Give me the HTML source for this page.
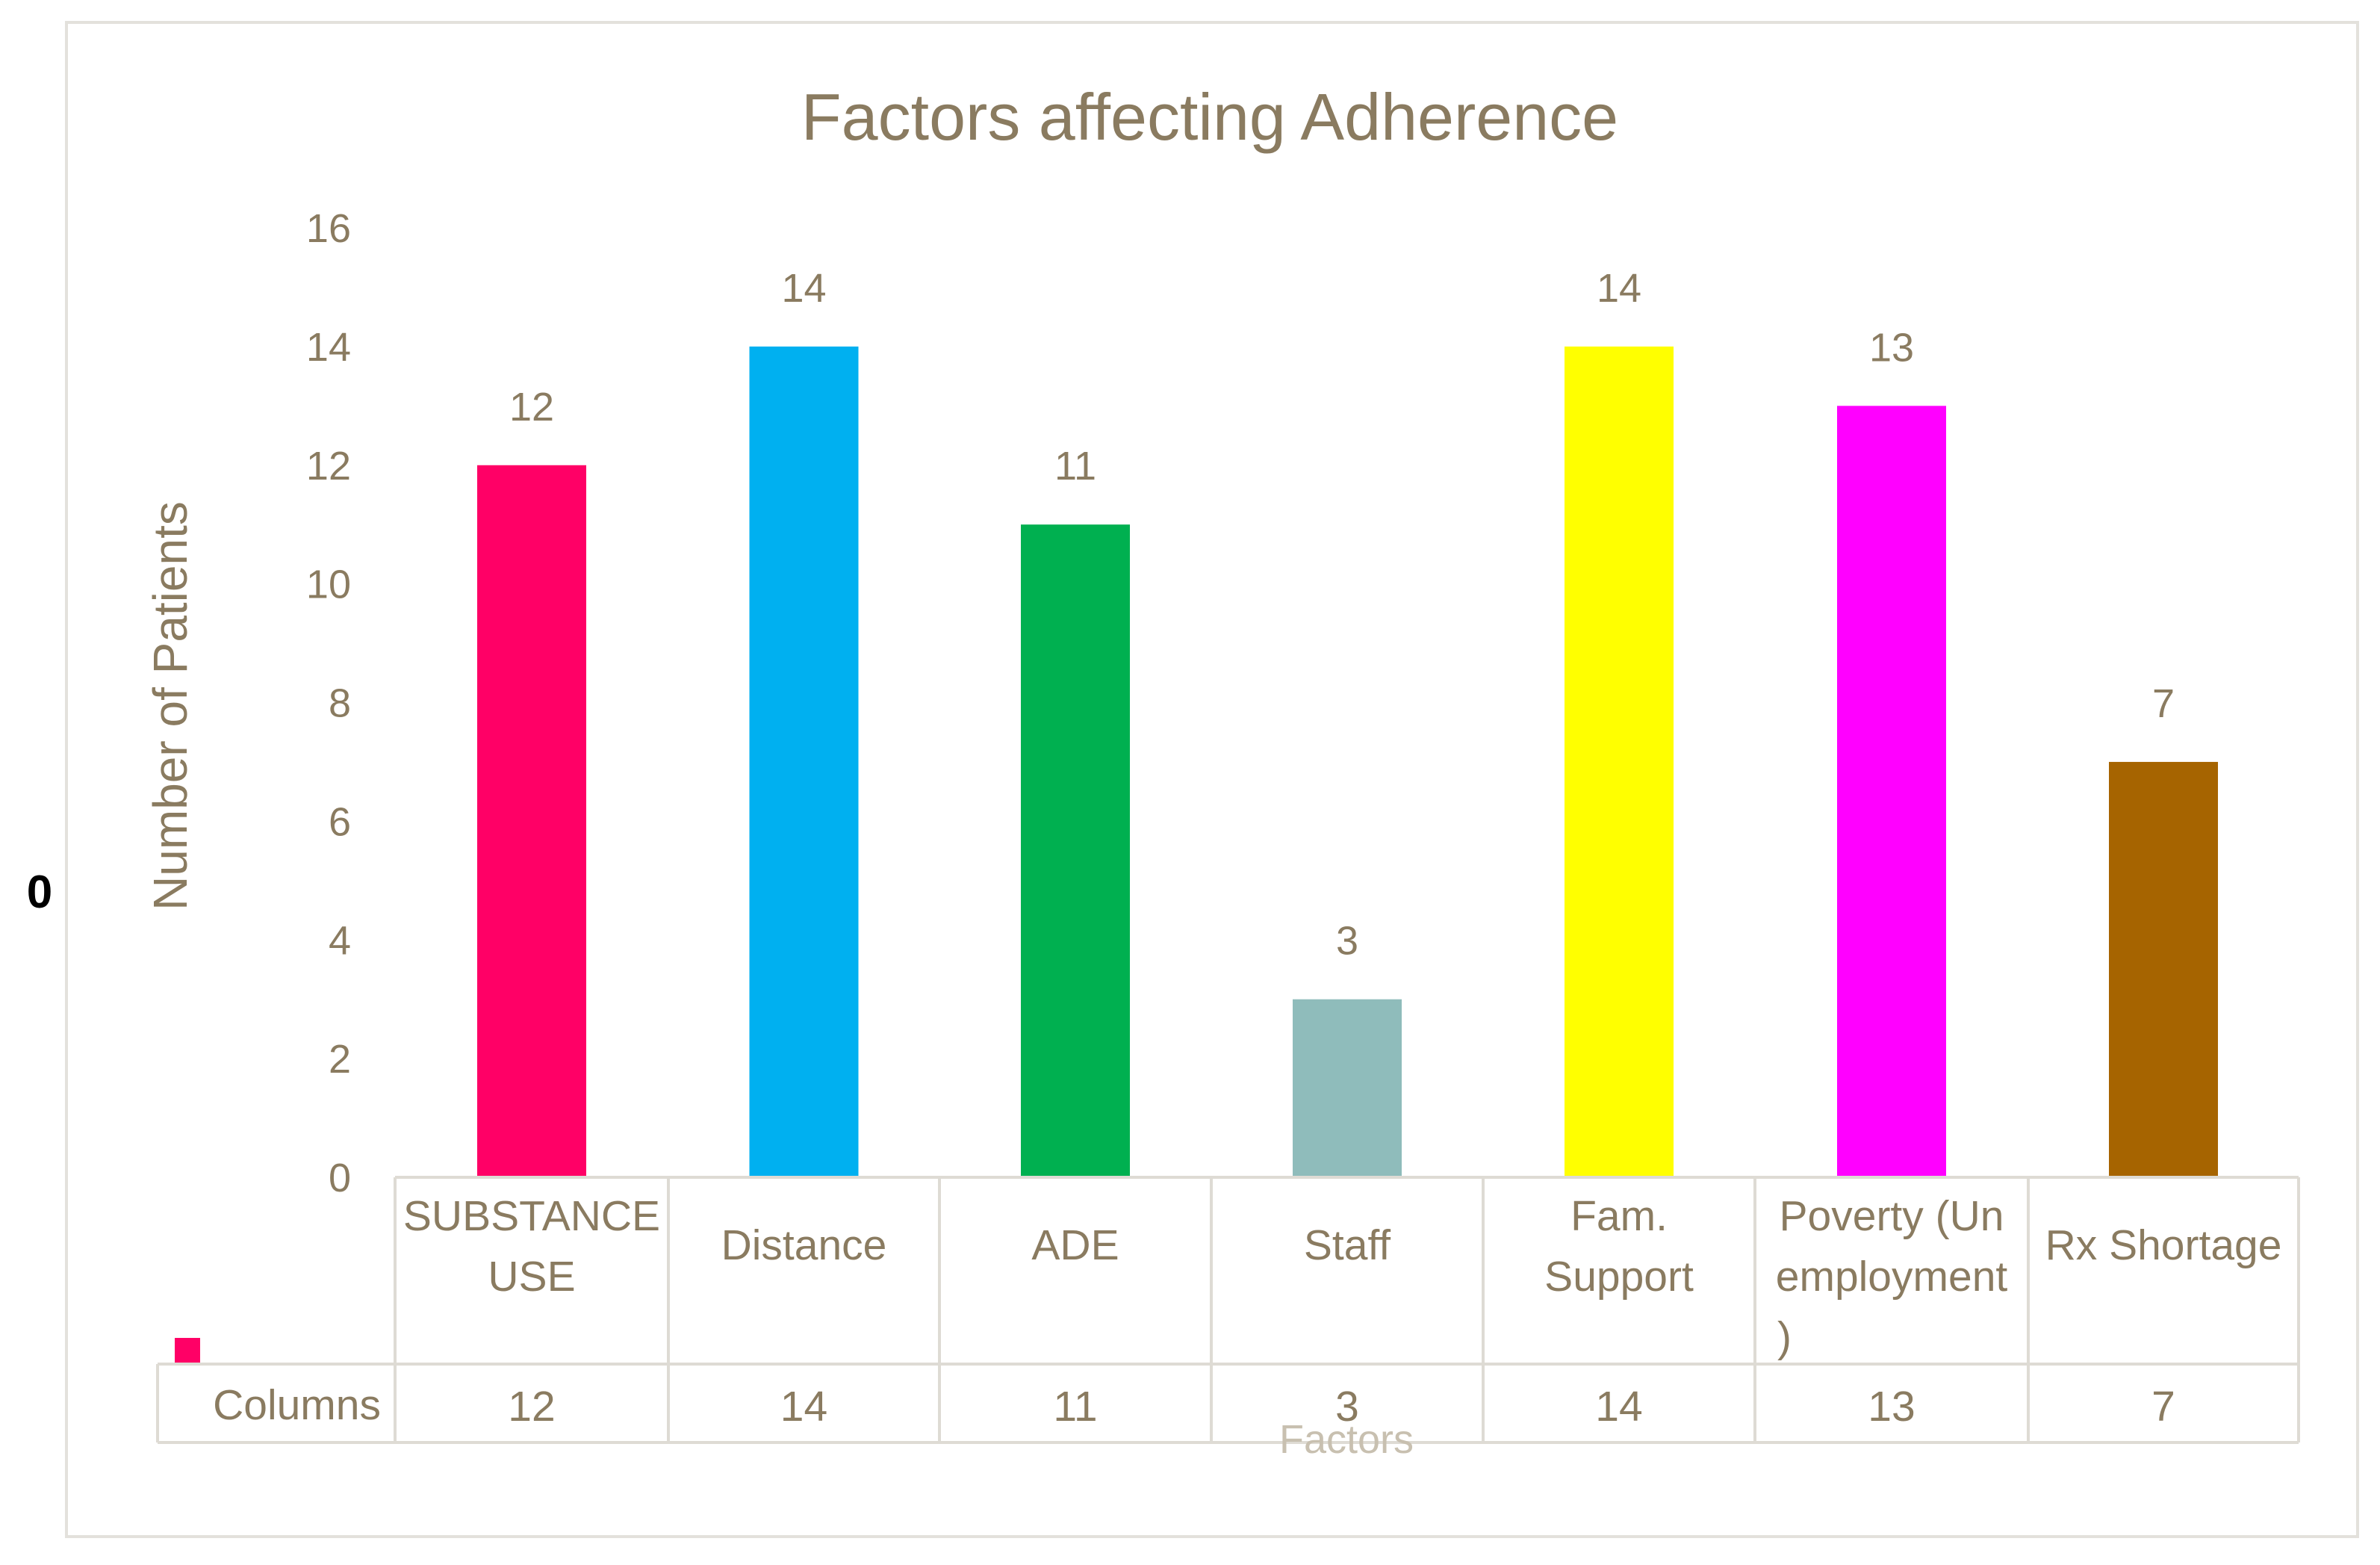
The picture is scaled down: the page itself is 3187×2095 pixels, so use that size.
<!DOCTYPE html>
<html><head><meta charset="utf-8"><style>
html,body{margin:0;padding:0;background:#fff;}
svg{display:block;font-family:"Liberation Sans Narrow","Liberation Sans",sans-serif;}
</style></head><body>
<svg id="chart" width="3187" height="2095" viewBox="0 0 3187 2095">
<rect x="89" y="30" width="3068" height="2027" fill="#fff" stroke="#e3e1dc" stroke-width="4"/>
<text x="1620" y="187" font-size="88" fill="#8a7b60" text-anchor="middle">Factors affecting Adherence</text>
<text x="0" y="0" font-size="64" fill="#8a7b60" text-anchor="middle" transform="translate(250,945) rotate(-90)">Number of  Patients</text>
<text x="53" y="1215" font-size="62" font-weight="bold" fill="#000" text-anchor="middle">0</text>
<rect x="234" y="1791" width="34" height="33" fill="#ff0066"/>
<g id="yticks"></g><g id="bars"></g><g id="table"></g>
<text x="1803" y="1945" font-size="54" fill="#c8c0b0" text-anchor="middle">Factors</text>
</svg>
<script>
const categories = [["SUBSTANCE","USE"],["Distance"],["ADE"],["Staff"],["Fam.","Support"],["Poverty (Un","employment",")"],["Rx Shortage"]];
const values = [12,14,11,3,14,13,7];
const colors = ["#ff0066","#00b0f0","#00b050","#8fbcbb","#ffff00","#ff00ff","#a66400"];
const yTicks = [0,2,4,6,8,10,12,14,16];

const NS="http://www.w3.org/2000/svg";
const y0=1576, yTop=305, yMax=16;
const y=v=>y0-(y0-yTop)*v/yMax;
const colEdges=[529,895,1258,1622,1986,2350,2716,3078];
const xc=i=>(colEdges[i]+colEdges[i+1])/2;
const bw=146, txt="#8a7b60", line="#dedbd4";
function mk(tag,attrs,parent){const e=document.createElementNS(NS,tag);for(const k in attrs)e.setAttribute(k,attrs[k]);parent.appendChild(e);return e;}
const gy=document.getElementById('yticks'), gb=document.getElementById('bars'), gt=document.getElementById('table');
yTicks.forEach(t=>{
  const e=mk('text',{x:470,y:y(t)+19,'font-size':54,fill:txt,'text-anchor':'end'},gy);
  e.textContent=t;
  
  
});
values.forEach((v,i)=>{
  const r=mk('rect',{x:xc(i)-bw/2,y:y(v),width:bw,height:y0-y(v),fill:colors[i]},gb);
  
  
  const l=mk('text',{x:xc(i),y:y(v)-60,'font-size':54,fill:txt,'text-anchor':'middle'},gb);
  l.textContent=v;
  
  
});
[[529,1576,3078,1576],[211,1826,3078,1826],[211,1931,3078,1931],[211,1826,211,1931]].forEach(a=>{
  const e=mk('line',{x1:a[0],y1:a[1],x2:a[2],y2:a[3],stroke:line,'stroke-width':4},gt);
  
  
});
colEdges.forEach(x=>{
  const e=mk('line',{x1:x,y1:1576,x2:x,y2:1931,stroke:line,'stroke-width':4},gt);
  
  
});
categories.forEach((lines,i)=>{
  const n=lines.length;
  const start = n===1 ? 1686 : 1647;
  lines.forEach((s,j)=>{
    const e=mk('text',{x:xc(i),y:start+j*81,'font-size':57,fill:txt,'text-anchor':(s===')'?'start':'middle')},gt);
    if(s===')') e.setAttribute('x',colEdges[i]+30);
    e.textContent=s;
    
    
  });
  const v=mk('text',{x:xc(i),y:1902,'font-size':57,fill:txt,'text-anchor':'middle'},gt);
  v.textContent=values[i];
  
  
});
const c=mk('text',{x:510,y:1900,'font-size':57,fill:txt,'text-anchor':'end'},gt);
c.textContent='Columns';


</script>
</body></html>
